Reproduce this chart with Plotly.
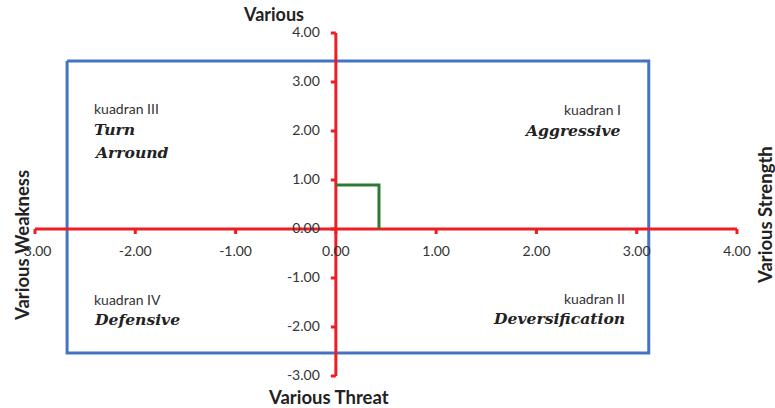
import plotly.graph_objects as go

# ---- data ----
x_ticks = [-3, -2, -1, 0, 1, 2, 3, 4]
x_tick_labels = ["-3.00", "-2.00", "-1.00", "0.00", "1.00", "2.00", "3.00", "4.00"]
y_ticks = [-3, -2, -1, 0, 1, 2, 3, 4]
y_tick_labels = ["-3.00", "-2.00", "-1.00", "0.00", "1.00", "2.00", "3.00", "4.00"]

# strategy position (IFE / EFE difference)
pos_x = [0, 0.43, 0.43]
pos_y = [0.9, 0.9, 0]

# quadrant boundary box
box_x = [-2.68, 3.12, 3.12, -2.68, -2.68]
box_y = [3.43, 3.43, -2.53, -2.53, 3.43]

RED = "#f01c24"
BLUE = "#4472c4"
GREEN = "#2f7a32"
TXT = "#333333"

W, H = 775, 408
# pixel calibration (x=-3 at 35px, x=4 at 737px; y=4 at 33px, y=-3 at 376px)
xpu = (737 - 35) / 7.0
ypu = (376 - 33) / 7.0
xr = [-3 - 35 / xpu, 4 + (W - 737) / xpu]
yr = [-3 - (H - 376) / ypu, 4 + 33 / ypu]


def px2x(px):
    return xr[0] + px / xpu


def px2y(py):
    return yr[1] - py / ypu


fig = go.Figure()

# box
fig.add_trace(go.Scatter(x=box_x, y=box_y, mode="lines",
                         line=dict(color=BLUE, width=3), hoverinfo="skip"))
# axes
fig.add_trace(go.Scatter(x=[x_ticks[0], x_ticks[-1]], y=[0, 0], mode="lines",
                         line=dict(color=RED, width=3), hoverinfo="skip"))
fig.add_trace(go.Scatter(x=[0, 0], y=[y_ticks[0], y_ticks[-1]], mode="lines",
                         line=dict(color=RED, width=3), hoverinfo="skip"))
# tick marks
tl = 5
for t in x_ticks:
    fig.add_shape(type="line", x0=t, x1=t, y0=0, y1=-tl / ypu,
                  line=dict(color=RED, width=3))
for t in y_ticks:
    fig.add_shape(type="line", x0=0, x1=-tl / xpu, y0=t, y1=t,
                  line=dict(color=RED, width=3))

# green position line
fig.add_trace(go.Scatter(x=pos_x, y=pos_y, mode="lines",
                         line=dict(color=GREEN, width=3), hoverinfo="skip"))

# tick labels
fig.add_trace(go.Scatter(x=x_ticks, y=[px2y(252)] * len(x_ticks), mode="text",
                         text=x_tick_labels, textposition="middle center",
                         textfont=dict(family="Lato", size=14, color=TXT),
                         hoverinfo="skip"))
fig.add_trace(go.Scatter(x=[-0.16] * len(y_ticks), y=y_ticks, mode="text",
                         text=y_tick_labels, textposition="middle left",
                         textfont=dict(family="Lato", size=14, color=TXT),
                         hoverinfo="skip"))

ann = []
small = dict(family="Lato", size=14, color=TXT)
big = dict(family="DejaVu Serif", size=15.6, color="#222222")


def add(text, px, py, xanchor, font):
    ann.append(dict(text=text, x=px2x(px), y=px2y(py), xref="x", yref="y",
                    xanchor=xanchor, yanchor="middle", showarrow=False, font=font))


add("kuadran III", 92, 108, "left", small)
add("<b><i>Turn</i></b>", 92, 129, "left", big)
add("<b><i>Arround</i></b>", 92, 152, "left", big)
add("kuadran I", 623, 109, "right", small)
add("<b><i>Aggressive</i></b>", 623, 130, "right", big)
add("kuadran IV", 92, 299, "left", small)
add("<b><i>Defensive</i></b>", 92, 319, "left", big)
add("kuadran II", 627, 298, "right", small)
add("<b><i>Deversification</i></b>", 627, 318, "right", big)

lab = dict(family="Lato", size=18.5, color="#222222")
add("<b>Various</b>", 273, 14, "center", dict(family="Lato", size=18, color="#222222"))
add("<b>Various Threat</b>", 328, 397, "center", lab)
ann.append(dict(text="<b>Various Weakness</b>", x=px2x(22), y=px2y(246), xref="x", yref="y",
                xanchor="center", yanchor="middle", showarrow=False, font=lab, textangle=-90))
ann.append(dict(text="<b>Various Strength</b>", x=px2x(765), y=px2y(215), xref="x", yref="y",
                xanchor="center", yanchor="middle", showarrow=False, font=lab, textangle=-90))

fig.update_layout(
    width=W, height=H,
    margin=dict(l=0, r=0, t=0, b=0),
    paper_bgcolor="white", plot_bgcolor="white",
    showlegend=False,
    annotations=ann,
    xaxis=dict(range=xr, visible=False, fixedrange=True),
    yaxis=dict(range=yr, visible=False, fixedrange=True),
)

fig.write_html(
    "out.html",
    config={"displayModeBar": False},
    post_script="document.body.style.margin='0';document.body.style.overflow='hidden';",
)
